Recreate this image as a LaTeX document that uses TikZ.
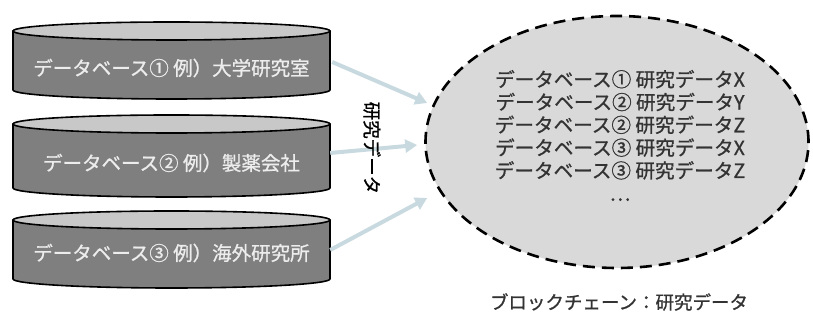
\documentclass[tikz,border=0pt]{standalone}
\usepackage{fontspec}
\newfontfamily\jp[FakeBold=0.9]{Noto Sans CJK JP}
\usetikzlibrary{shapes.geometric,arrows.meta}
\definecolor{bodyg}{HTML}{7F7F7F}
\definecolor{topg}{HTML}{C8C8C8}
\definecolor{ellg}{HTML}{D9D9D9}
\definecolor{arrowc}{HTML}{C8DADF}
\definecolor{darktext}{HTML}{333333}
\definecolor{lighttext}{HTML}{EDEDED}
\tikzset{
  cylbody/.style={fill=bodyg, draw=black, line width=1.6pt, line join=round},
  cyltop/.style={fill=topg, draw=black, line width=1.6pt},
  dbtext/.style={font=\jp\fontsize{19.5}{22}\selectfont, text=lighttext, minimum width=317pt, inner sep=0pt, align=center},
  dataarrow/.style={draw=arrowc, line width=4pt, -{Triangle[length=12pt,width=13pt]}},
  chain/.style={ellipse, draw=black, fill=ellg, line width=2.6pt, dash pattern=on 12pt off 7pt, minimum width=383pt, minimum height=252pt, inner sep=0pt},
  chaintext/.style={font=\jp\fontsize{19.6}{22.8}\selectfont, text=darktext, align=center},
  labeltext/.style={font=\jp\fontsize{18.5}{22}\selectfont, text=darktext},
}
\newcommand{\dbcyl}[2]{% top Y, bottom Y
  \path[cylbody] (13,#1) -- (13,#2) arc[start angle=180, end angle=360, x radius=158.5, y radius=9] -- (330,#1) -- cycle;
  \path[cyltop] (171.5,#1) ellipse[x radius=158.5, y radius=9];
}
\begin{document}
\begin{tikzpicture}[x=1pt,y=1pt]
\useasboundingbox (0,0) rectangle (813,320);
% cylinders
\dbcyl{289}{230}
\dbcyl{196}{132}
\dbcyl{100}{41}
\node[dbtext] (db1) at (171.5,252) {データベース① 例）大学研究室};
\node[dbtext] (db2) at (171.5,157) {データベース② 例）製薬会社};
\node[dbtext] (db3) at (171.5,67) {データベース③ 例）海外研究所};
% blockchain ellipse
\node[chain] (bc) at (617,178) {};
\node[chaintext] (list) at (620,184.5) {データベース① 研究データX\\データベース② 研究データY\\データベース② 研究データZ\\データベース③ 研究データX\\データベース③ 研究データZ\\…};
\node[labeltext] (bclabel) at (619,18) {ブロックチェーン：研究データ};
% arrows
\coordinate (s1) at ([xshift=2pt,yshift=6pt]db1.east);
\coordinate (s2) at ([yshift=10pt]db2.east);
\coordinate (s3) at ([yshift=3pt]db3.east);
\coordinate (e1) at ([xshift=3pt,yshift=39pt]bc.west);
\coordinate (e2) at ([xshift=-7pt,yshift=-3pt]bc.west);
\coordinate (e3) at ([xshift=3pt,yshift=-56pt]bc.west);
\draw[dataarrow] (s1) -- (e1);
\draw[dataarrow] (s2) -- (e2);
\draw[dataarrow] (s3) -- (e3);
\node[labeltext, rotate=-90, text=black] (flow) at (372,172) {研究データ};
\end{tikzpicture}
\end{document}
